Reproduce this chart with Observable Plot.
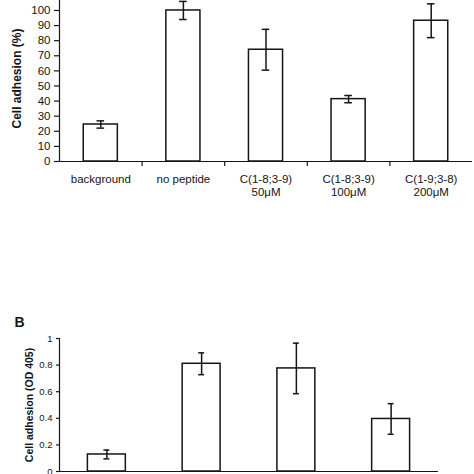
<!DOCTYPE html>
<html><head><meta charset="utf-8">
<script src="https://cdn.jsdelivr.net/npm/d3@7"></script>
<script src="https://cdn.jsdelivr.net/npm/@observablehq/plot@0.6"></script>
<style>
body{margin:0;background:#fff;}
#wrap{position:relative;width:474px;height:474px;overflow:hidden;background:#fff;}
#a{position:absolute;left:0;top:0;}
#b{position:absolute;left:0;top:300px;}
svg{font-family:"Liberation Sans",Arial,sans-serif;}
</style></head><body><div id="wrap"><div id="a"></div><div id="b"></div></div>
<script>
// Panel A
const categoriesA = ["background", "no peptide", "C(1-8;3-9)\n50μM", "C(1-8;3-9)\n100μM", "C(1-9;3-8)\n200μM"];
const valuesA = [24.5, 100, 74, 41.3, 93.2];
const errorsA = [2.4, 6, 13.5, 2.4, 11.2];
const yTicksA = [0, 10, 20, 30, 40, 50, 60, 70, 80, 90, 100];
const titleA = "Cell adhesion (%)";

// Panel B
const categoriesB = ["bar 1", "bar 2", "bar 3", "bar 4"];
const valuesB = [0.128, 0.81, 0.775, 0.395];
const errorsB = [0.033, 0.082, 0.19, 0.115];
const yTicksB = [0, 0.2, 0.4, 0.6, 0.8, 1];
const titleB = "Cell adhesion (OD 405)";
const panelB = "B";

const ink = "#151515";
const font = '"Liberation Sans", Arial, sans-serif';

const dataA = categoriesA.map((c, i) => ({c, i, v: valuesA[i], e: errorsA[i]}));
const dataB = categoriesB.map((c, i) => ({c, i, v: valuesB[i], e: errorsB[i]}));

const plotA = Plot.plot({
  width: 474, height: 205,
  marginTop: 0, marginBottom: 44, marginLeft: 59, marginRight: 2,
  x: {domain: [0, 5], axis: null},
  y: {domain: [0, 106.6], axis: null},
  style: {fontFamily: font, color: ink, background: "transparent", overflow: "visible"},
  marks: [
    Plot.axisY(yTicksA, {label: null, tickSize: 5, tickPadding: 4, fontSize: 11.5, stroke: ink, strokeWidth: 1.2}),
    Plot.axisX([1, 2, 3, 4], {label: null, tickSize: 5, tickFormat: () => "", stroke: ink, strokeWidth: 1.2}),
    Plot.rectY(dataA, {x1: "i", x2: d => d.i + 1, y: "v", insetLeft: 24.25, insetRight: 24.25, fill: "white", stroke: ink, strokeWidth: 1.5}),
    Plot.ruleX(dataA, {x: d => d.i + 0.5, y1: d => d.v - d.e, y2: d => d.v + d.e, stroke: ink, strokeWidth: 1.5}),
    Plot.ruleY(dataA, {x1: "i", x2: d => d.i + 1, y: d => d.v + d.e, insetLeft: 37.5, insetRight: 37.5, stroke: ink, strokeWidth: 1.5}),
    Plot.ruleY(dataA, {x1: "i", x2: d => d.i + 1, y: d => d.v - d.e, insetLeft: 37.5, insetRight: 37.5, stroke: ink, strokeWidth: 1.5}),
    Plot.ruleY([0], {stroke: ink, strokeWidth: 1.2}),
    Plot.ruleX([0], {stroke: ink, strokeWidth: 1.2}),
    Plot.text(dataA, {x: d => d.i + 0.5, y: () => 0, text: "c", dy: 12, lineAnchor: "top", lineHeight: 1.13, fontSize: 11.5, fill: ink}),
    Plot.text([titleA], {frameAnchor: "left", dx: -42, dy: -2.5, rotate: -90, textAnchor: "middle", fontWeight: "bold", fontSize: 12, fill: ink})
  ]
});
document.getElementById("a").append(plotA);

const plotB = Plot.plot({
  width: 474, height: 174,
  marginTop: 38, marginBottom: 3, marginLeft: 59, marginRight: 36,
  x: {domain: [0, 4], axis: null},
  y: {domain: [0, 1], axis: null},
  style: {fontFamily: font, color: ink, background: "transparent", overflow: "visible"},
  marks: [
    Plot.axisY(yTicksB, {label: null, tickSize: 3, tickPadding: 4, fontSize: 9.5, tickFormat: d => String(d), stroke: ink, strokeWidth: 1.2}),
    Plot.rectY(dataB, {x1: "i", x2: d => d.i + 1, y: "v", insetLeft: 28.4, insetRight: 28.4, fill: "white", stroke: ink, strokeWidth: 1.5}),
    Plot.ruleX(dataB, {x: d => d.i + 0.5, y1: d => d.v - d.e, y2: d => d.v + d.e, stroke: ink, strokeWidth: 1.5}),
    Plot.ruleY(dataB, {x1: "i", x2: d => d.i + 1, y: d => d.v + d.e, insetLeft: 44.4, insetRight: 44.4, stroke: ink, strokeWidth: 1.5}),
    Plot.ruleY(dataB, {x1: "i", x2: d => d.i + 1, y: d => d.v - d.e, insetLeft: 44.4, insetRight: 44.4, stroke: ink, strokeWidth: 1.5}),
    Plot.ruleY([0], {stroke: ink, strokeWidth: 1.2}),
    Plot.ruleX([0], {stroke: ink, strokeWidth: 1.2}),
    Plot.text([titleB], {frameAnchor: "left", dx: -30, rotate: -90, textAnchor: "middle", fontWeight: "bold", fontSize: 10.5, fill: ink}),
    Plot.text([panelB], {frameAnchor: "top-left", dx: -40, dy: -16, textAnchor: "middle", lineAnchor: "middle", fontWeight: "bold", fontSize: 14, fill: ink})
  ]
});
document.getElementById("b").append(plotB);
</script>
</body></html>
